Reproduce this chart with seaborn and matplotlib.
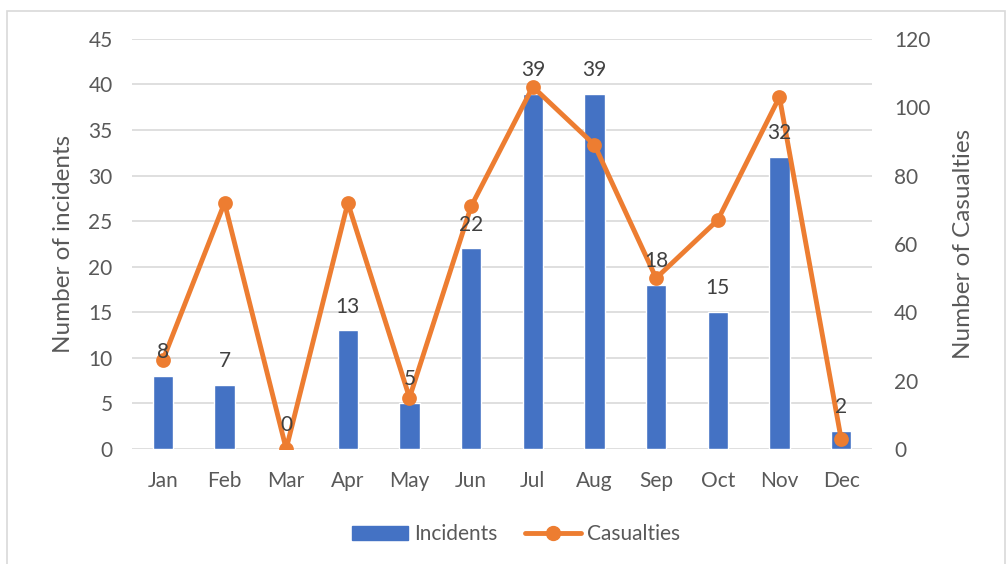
import matplotlib
matplotlib.use("Agg")
import matplotlib.pyplot as plt
import seaborn as sns
import pandas as pd
from matplotlib.lines import Line2D
from matplotlib.patches import Patch, Rectangle

months = ["Jan", "Feb", "Mar", "Apr", "May", "Jun", "Jul", "Aug", "Sep", "Oct", "Nov", "Dec"]
incidents = [8, 7, 0, 13, 5, 22, 39, 39, 18, 15, 32, 2]
casualties = [26, 72, 0, 72, 15, 71, 106, 89, 50, 67, 103, 3]

sns.set_theme(style="white")
plt.rcParams["font.family"] = ["Lato", "DejaVu Sans"]

BLUE = "#4472C4"
ORANGE = "#ED7D31"
TXT = "#595959"
GRID = "#D9D9D9"

df = pd.DataFrame({"Month": months, "Incidents": incidents, "Casualties": casualties})

fig = plt.figure(figsize=(10.08, 5.64), dpi=100)
ax = fig.add_axes([0.131, 0.204, 0.734, 0.727])

sns.barplot(data=df, x="Month", y="Incidents", color=BLUE, width=0.33, ax=ax,
            saturation=1, zorder=2)
ax.set_ylim(0, 45)
ax.set_yticks(range(0, 46, 5))
ax.set_xlim(-0.5, 11.5)
ax.grid(axis="y", color=GRID, linewidth=1.2, zorder=0)
ax.set_axisbelow(True)
for s in ax.spines.values():
    s.set_visible(False)
ax.tick_params(axis="x", colors=TXT, labelsize=15, length=0, pad=16)
ax.tick_params(axis="y", colors=TXT, labelsize=15, length=0, pad=14)
ax.set_xlabel("")
ax.set_ylabel("Number of incidents", fontsize=17.5, color=TXT, labelpad=10)

ax2 = ax.twinx()
sns.pointplot(data=df, x="Month", y="Casualties", color=ORANGE, ax=ax2,
              markersize=8, linewidth=3.5, marker="o")
ax2.set_ylim(0, 120)
ax2.set_yticks(range(0, 121, 20))
ax2.set_xlim(-0.5, 11.5)
for s in ax2.spines.values():
    s.set_visible(False)
ax2.tick_params(axis="y", colors=TXT, labelsize=15, length=0, pad=16)
ax2.set_ylabel("Number of Casualties", fontsize=17.5, color=TXT, labelpad=16)
ax2.set_xlabel("")

# data labels for bars, drawn above the line
for i, v in enumerate(incidents):
    ax2.annotate(str(v), xy=(i, v), xycoords=ax.transData, xytext=(0, 10),
                 textcoords="offset points", ha="center", va="bottom",
                 fontsize=15, color="#404040", zorder=10)

handles = [Patch(facecolor=BLUE, edgecolor=BLUE),
           Line2D([0], [0], color=ORANGE, linewidth=3.5, marker="o", markersize=10)]
fig.legend(handles, ["Incidents", "Casualties"], loc="center", bbox_to_anchor=(0.512, 0.053),
           ncol=2, frameon=False, fontsize=15, labelcolor=TXT, handlelength=2.7,
           columnspacing=1.3, handletextpad=0.3)

fig.patches.append(Rectangle((0.007, -0.01), 0.99, 0.99, transform=fig.transFigure,
                             fill=False, edgecolor="#D9D9D9", linewidth=1.2))

fig.savefig("out.png", dpi=100)
